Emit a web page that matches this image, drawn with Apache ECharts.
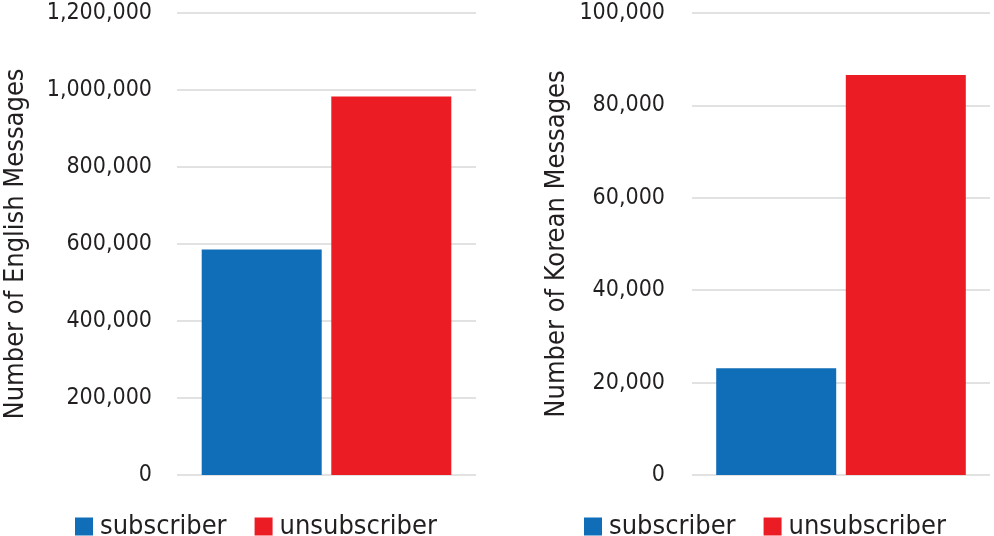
<!DOCTYPE html>
<html>
<head>
<meta charset="utf-8">
<script src="https://cdn.jsdelivr.net/npm/echarts@6/dist/echarts.min.js"></script>
<style>html,body{margin:0;padding:0;background:#fff}#c{width:994px;height:536px}</style>
</head>
<body>
<div id="c"></div>
<script>
const seriesNames = ['subscriber', 'unsubscriber'];
const englishValues = [586000, 983000];
const koreanValues = [23100, 86600];
const englishTicks = { min: 0, max: 1200000, interval: 200000 };
const koreanTicks = { min: 0, max: 100000, interval: 20000 };
const axisNames = ['Number of English Messages', 'Number of Korean Messages'];
const colors = ['#106db8', '#ec1c24'];

const FONT = '"DejaVu Sans Condensed", "Liberation Sans Narrow", Roboto, sans-serif';
const TXT = '#231f20';
const chart = echarts.init(document.getElementById('c'));

function yAxis(idx, ticks, name, margin) {
  return {
    type: 'value', gridIndex: idx, min: ticks.min, max: ticks.max, interval: ticks.interval,
    name: name, nameLocation: 'middle', nameGap: idx === 0 ? 148 : 122,
    nameTextStyle: { fontFamily: FONT, fontSize: 27, color: TXT },
    axisLine: { show: false }, axisTick: { show: false },
    axisLabel: { fontFamily: FONT, fontSize: 23, color: TXT, margin: margin,
      formatter: v => v.toLocaleString('en-US') },
    splitLine: { lineStyle: { color: '#d9d9d9', width: 1.5 } }
  };
}
function xAxis(idx) {
  return { type: 'category', gridIndex: idx, data: [''], axisLine: { show: false },
    axisTick: { show: false }, axisLabel: { show: false } };
}
function bar(name, idx, value, color) {
  return { name: name, type: 'bar', xAxisIndex: idx, yAxisIndex: idx, data: [value],
    barWidth: 120, barGap: '8%', itemStyle: { color: color }, animation: false };
}
const legendBase = {
  itemWidth: 18, itemHeight: 18, itemGap: 28, icon: 'rect', top: 508,
  textStyle: { fontFamily: FONT, fontSize: 27, color: TXT, padding: [0, 0, 0, 2] },
  data: seriesNames
};

chart.setOption({
  animation: false,
  grid: [
    { left: 177, top: 13, width: 299, height: 462 },
    { left: 692, top: 13, width: 298, height: 462 }
  ],
  xAxis: [xAxis(0), xAxis(1)],
  yAxis: [yAxis(0, englishTicks, axisNames[0], 25), yAxis(1, koreanTicks, axisNames[1], 27)],
  legend: [
    Object.assign({}, legendBase, { left: 70 }),
    Object.assign({}, legendBase, { left: 579 })
  ],
  series: [
    bar(seriesNames[0], 0, englishValues[0], colors[0]),
    bar(seriesNames[1], 0, englishValues[1], colors[1]),
    bar(seriesNames[0], 1, koreanValues[0], colors[0]),
    bar(seriesNames[1], 1, koreanValues[1], colors[1])
  ]
});
</script>
</body>
</html>
